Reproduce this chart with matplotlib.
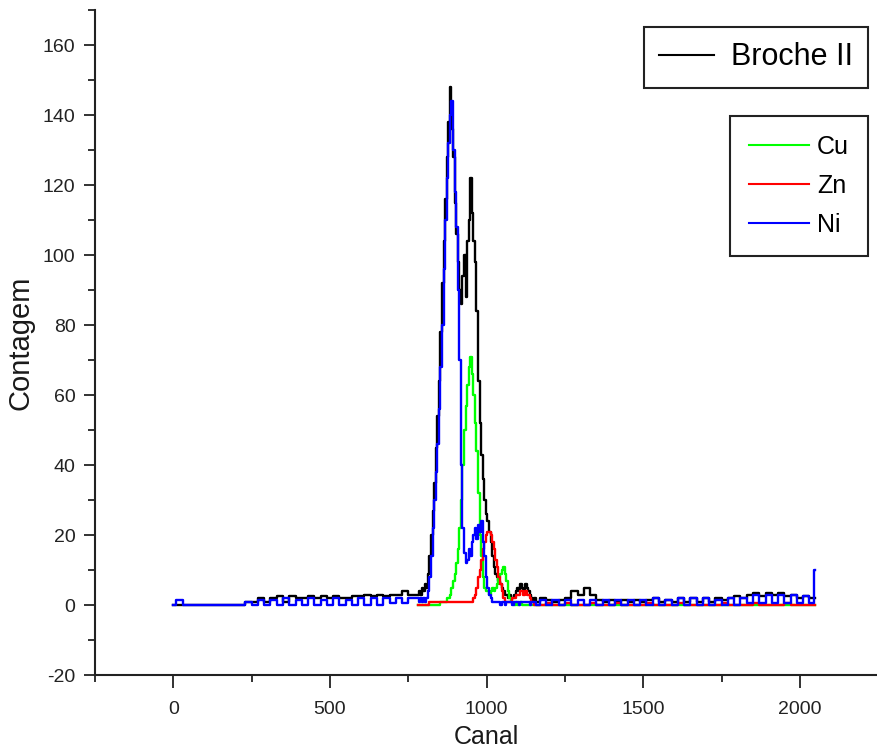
import numpy as np
import matplotlib
matplotlib.use("Agg")
import matplotlib.pyplot as plt
from matplotlib.lines import Line2D
from matplotlib.ticker import MultipleLocator

plt.rcParams['font.family'] = ['Liberation Sans', 'DejaVu Sans']
plt.rcParams['axes.unicode_minus'] = False

# canais (eixo x): baixo, pico, cauda
low_ch = np.arange(0, 761, 20)
peak_ch = np.arange(780, 1161, 5)
tail_ch = np.append(np.arange(1180, 2041, 20), 2048)

# Broche II (total)
broche_low = [0, 0, 0, 0, 0, 0, 0, 0, 0, 0, 0, 0, 1, 1, 2, 1, 2, 2.5, 1, 2.5,
              2, 2, 2.5, 2, 2.5, 2, 2.5, 2, 2, 2.5, 2.5, 3, 2.5, 3, 2.5, 3, 3, 4, 3]
broche_peak = [3, 4, 3, 5, 4, 6, 5, 9, 14, 20,
               27, 35, 45, 54, 64, 78, 92, 104, 116, 128,
               138, 148, 136, 128, 115, 106, 98, 90, 86, 94,
               100, 88, 104, 110, 122, 112, 104, 98, 84, 64,
               52, 43, 36, 30, 26, 24, 21, 18, 14, 11,
               9, 8, 7, 6, 5, 4, 3, 3, 2, 3,
               2, 2, 3, 4, 5, 4, 6, 5, 4, 6,
               5, 4, 3, 2, 1, 2, 1]
broche_tail = [2, 1.5, 1, 1.5, 2, 4, 3, 5, 3, 1.5, 1, 1.5, 1, 1.5, 1, 1.5, 1, 1.5,
               2, 1, 1.5, 1, 2, 1, 2, 1, 2, 1, 2, 1.5, 2, 2.5, 2, 3, 3.5, 2.5,
               3.5, 3, 3.5, 2.5, 3, 2, 2.5, 2, 2]

# Cu
cu_peak = [0, 0, 0, 0, 0, 0, 0, 0, 0, 0,
           0, 0, 0, 0, 0, 1, 1, 1, 1, 2,
           2, 3, 5, 7, 9, 12, 16, 22, 30, 40,
           50, 57, 63, 68, 71, 66, 60, 52, 44, 32,
           20, 14, 8, 5, 4, 4, 3, 4, 5, 4,
           5, 6, 8, 9, 10, 11, 9, 7, 4, 2,
           1, 1, 0, 1, 0, 0, 1, 0, 0, 0,
           0, 0, 0, 0, 0, 0, 0]
cu_tail = [0, 0, 0, 0, 0, 0, 0, 0, 0, 0, 0, 0, 0, 0, 0, 0, 0, 0, 0, 0, 0, 0,
           0, 0, 0, 0, 0, 0, 0, 0, 0, 0, 0, 0, 0, 0, 0, 0, 0, 0, 0, 0, 0, 0, 0]

# Zn
zn_peak = [0, 0, 0, 0, 0, 0, 0, 0, 1, 1,
           1, 1, 1, 1, 1, 1, 1, 1, 1, 1,
           1, 1, 1, 1, 1, 1, 1, 1, 1, 1,
           1, 1, 1, 1, 1, 1, 2, 3, 5, 8,
           10, 13, 16, 18, 20, 21, 21, 20, 18, 16,
           13, 11, 8, 6, 4, 2, 1, 1, 1, 1,
           1, 2, 2, 3, 3, 3, 4, 4, 3, 4,
           3, 3, 2, 1, 1, 0, 0]
zn_tail = [0, 0.5, 0, 0, 0.5, 0, 0, 0, 0.5, 0, 0, 0, 0.5, 0, 0, 0, 0, 0.5, 0, 0, 0, 0,
           0.5, 0, 0, 0, 0, 0, 0, 0.5, 0, 0, 0, 0, 0.5, 0, 0, 0, 0, 0.5, 0, 0, 0, 0, 0]

# Ni
ni_low = [0, 1.5, 0, 0, 0, 0, 0, 0, 0, 0, 0, 0, 1, 0, 1.5, 0, 1.5, 0, 2, 0,
          1.5, 0, 2, 0, 1.5, 0, 2, 0, 1.5, 0, 2, 0, 2, 0, 2, 0.5, 2, 0.5, 2]
ni_peak = [2, 1, 2, 1, 2, 1, 2, 4, 8, 14,
           22, 30, 38, 46, 56, 68, 80, 96, 110, 122,
           132, 140, 144, 130, 118, 108, 90, 70, 40, 22,
           15, 12, 13, 16, 14, 18, 20, 22, 19, 23,
           21, 24, 18, 14, 8, 5, 3, 2, 1, 1,
           1, 1, 1, 0, 1, 1, 0, 1, 1, 1,
           1, 0, 1, 1, 1, 0, 1, 1, 1, 1,
           1, 1, 0, 1, 1, 1, 0]
ni_tail = [1.5, 0, 1.5, 0, 1.5, 0, 1.5, 0, 1.5, 0, 1.5, 0, 1.5, 0, 1.5, 0, 1.5, 0,
           2, 0, 1.5, 0, 2, 0, 2, 0, 2, 0, 1.5, 0, 2, 0, 2, 0.5, 3, 0.5, 3, 0.5,
           3, 0.5, 3, 0.5, 2.5, 0.5, 10]

ch_all = np.concatenate([low_ch, peak_ch, tail_ch])
ch_mid = np.concatenate([peak_ch, tail_ch])

fig = plt.figure(figsize=(8.77, 7.54), dpi=100)
ax = fig.add_axes([95 / 877, 79 / 754, 783.3 / 877, 665 / 754])

lw = 1.7
ax.plot(ch_all, broche_low + broche_peak + broche_tail, drawstyle='steps-mid', color='black', lw=lw)
ax.plot(ch_mid, cu_peak + cu_tail, drawstyle='steps-mid', color='#00ff00', lw=lw)
ax.plot(ch_mid, zn_peak + zn_tail, drawstyle='steps-mid', color='#ff0000', lw=lw)
ax.plot(ch_all, ni_low + ni_peak + ni_tail, drawstyle='steps-mid', color='#0000ff', lw=lw)

ax.set_xlim(-250, 2250)
ax.set_ylim(-20, 170)
ax.spines['top'].set_visible(False)
ax.spines['right'].set_visible(False)
for s in ('left', 'bottom'):
    ax.spines[s].set_linewidth(1.5)
    ax.spines[s].set_color('#222222')

ax.xaxis.set_major_locator(MultipleLocator(500))
ax.xaxis.set_minor_locator(MultipleLocator(250))
ax.yaxis.set_major_locator(MultipleLocator(20))
ax.yaxis.set_minor_locator(MultipleLocator(10))
ax.tick_params(axis='x', which='major', direction='out', length=9, width=1.3, pad=10,
               labelsize=14, colors='#222222')
ax.tick_params(axis='x', which='minor', direction='out', length=5, width=1.3, colors='#222222')
ax.tick_params(axis='y', which='major', direction='out', length=8, width=1.3, pad=6,
               labelsize=14, colors='#222222')
ax.tick_params(axis='y', which='minor', direction='out', length=5, width=1.3, colors='#222222')

ax.set_xlabel('Canal', fontsize=18, labelpad=5, color='#1a1a1a')
ax.set_ylabel('Contagem', fontsize=21, labelpad=6, color='#1a1a1a')

leg1 = fig.legend(handles=[Line2D([], [], color='black', lw=1.5)], labels=['Broche II'],
                  loc='upper right', bbox_to_anchor=(868 / 877, 1 - 27 / 754),
                  borderaxespad=0, fancybox=False, framealpha=1, edgecolor='#222222',
                  fontsize=22, handlelength=1.8, handletextpad=0.55, borderpad=0.5)
leg1.get_frame().set_linewidth(1.5)

leg2 = fig.legend(handles=[Line2D([], [], color='#00ff00', lw=1.5),
                           Line2D([], [], color='#ff0000', lw=1.5),
                           Line2D([], [], color='#0000ff', lw=1.5)],
                  labels=['Cu', 'Zn', 'Ni'],
                  loc='upper right', bbox_to_anchor=(868 / 877, 1 - 116 / 754),
                  borderaxespad=0, fancybox=False, framealpha=1, edgecolor='#222222',
                  fontsize=18, handlelength=2.4, handletextpad=0.35, borderpad=0.75,
                  labelspacing=0.6)
leg2.get_frame().set_linewidth(1.5)

fig.savefig('out.png', dpi=100)
